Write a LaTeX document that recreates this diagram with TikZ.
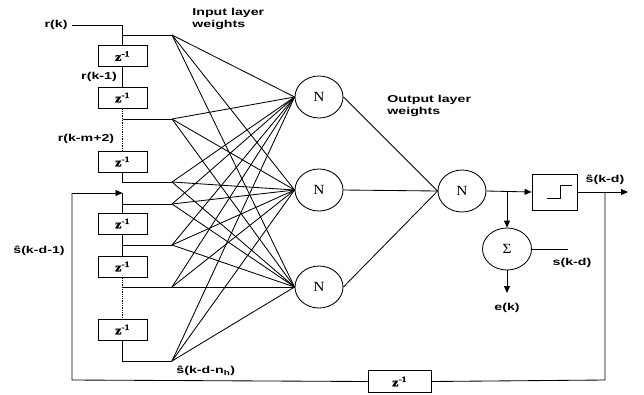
\documentclass[tikz,border=0pt]{standalone}
\usepackage{fontspec}
\setmainfont{Liberation Serif}
\setsansfont[FakeStretch=1.42]{Liberation Sans}
\newfontfamily\nfont[FakeStretch=1.1]{Liberation Serif}
\newfontfamily\zfont[FakeStretch=1.2,FakeBold=1.5]{Liberation Serif}
\usetikzlibrary{arrows.meta,shapes.geometric}
\begin{document}
\begin{tikzpicture}[x=1pt,y=-1pt,line width=0.85pt,
  delay/.style={draw,minimum width=49pt,minimum height=21pt,inner sep=0pt,font=\zfont\bfseries\fontsize{12}{12}\selectfont},
  neuron/.style={draw,ellipse,minimum width=48pt,minimum height=42pt,inner sep=0pt,font=\nfont\fontsize{14}{14}\selectfont},
  lbl/.style={font=\sffamily\bfseries\fontsize{10}{11.5}\selectfont,inner sep=0pt,align=left},
  arr/.style={-{Triangle[length=7pt,width=6pt]}},
  dots/.style={densely dotted,line width=1.3pt}
]
\useasboundingbox (0,0) rectangle (644,394);

% delay boxes
\node[delay] (d1) at (122.5,56) {z\textsuperscript{-1}};
\node[delay] (d2) at (122.5,97.5) {z\textsuperscript{-1}};
\node[delay] (d3) at (122.5,161.5) {z\textsuperscript{-1}};
\node[delay] (d4) at (122.5,223.5) {z\textsuperscript{-1}};
\node[delay] (d5) at (122.5,266.5) {z\textsuperscript{-1}};
\node[delay] (d6) at (122.5,329.5) {z\textsuperscript{-1}};
\node[delay,minimum width=63pt,minimum height=22pt] (db) at (399.5,381.5) {z\textsuperscript{-1}};

% fan points
\coordinate (f1) at (172,35);
\coordinate (f2) at (172,119);
\coordinate (f3) at (172,182);
\coordinate (f4) at (172,204);
\coordinate (f5) at (172,245);
\coordinate (f6) at (172,287);
\coordinate (f7) at (172,361);

% neurons
\node[neuron] (h1) at (319,97) {N};
\node[neuron] (h2) at (319,190) {N};
\node[neuron] (h3) at (319,287) {N};
\node[neuron] (o) at (462,191) {N};
\node[neuron,minimum width=49pt] (sg) at (507,249) {Σ};
\node[draw,minimum width=45pt,minimum height=36pt,inner sep=0pt] (st) at (554.5,192) {};

% labels
\node[lbl,anchor=east] (lrk) at (68,25) {r(k)};
\node[lbl] (lrk1) at (99,77) {r(k-1)};
\node[lbl] (lrkm) at (86,139) {r(k-m+2)};
\node[lbl] (lsd1) at (39,251) {ŝ(k-d-1)};
\node[lbl,anchor=west] (lsdn) at (176,371) {ŝ(k-d-n\textsubscript{h})};
\node[lbl,anchor=north west] (lin) at (192,8) {Input layer\\weights};
\node[lbl,anchor=north west] (lout) at (387,95) {Output layer\\weights};
\node[lbl] (lsk) at (572,263) {s(k-d)};
\node[lbl] (lek) at (507,308) {e(k)};
\node[lbl] (lshat) at (605,180) {ŝ(k-d)};

% input tapped delay line
\coordinate (rin) at (72,25);
\draw (rin) -| (d1.north);
\draw (d1.north |- f1) -- (f1);
\draw (d1.south) -- (d2.north);
\draw[dots] (d2.south) -- (d3.north);
\draw (d2.south |- f2) -- (f2);
\draw (d3.south) |- (f3);

% feedback tapped delay line
\coordinate (fbin) at (72,193);
\coordinate (fbtop) at (122.5,193);
\coordinate (fbl) at (72,380);
\coordinate (fbr) at (605,380);
\coordinate (jout) at (605,192);
\draw[arr] (fbin) -- (fbtop);
\draw (fbtop) -- (d4.north);
\draw (d4.north |- f4) -- (f4);
\draw (d4.south) -- (d5.north);
\draw (d4.south |- f5) -- (f5);
\draw[dots] (d5.south) -- (d6.north);
\draw (d5.south |- f6) -- (f6);
\draw (d6.south) |- (f7);
\draw (jout) -- (fbr) -- (db.east);
\draw (db.west) -- (fbl) -- (fbin);

% input layer weights
\foreach \f in {f1,f2,f3,f4,f5,f6,f7}
  \foreach \h in {h1,h2,h3}
    \draw (\f) -- (\h.west);

% output layer weights
\foreach \h in {h1,h2,h3}
  \draw (\h.east) -- (o.west);

% output stage
\coordinate (jb) at (507,192);
\coordinate (oend) at (628,192);
\coordinate (sin) at (568,249);
\coordinate (eend) at (507,293);
\draw[arr] (o.east) -- (st.west);
\draw[arr] (jb) -- (sg.north);
\draw[arr] (st.east) -- (oend);
\draw (sg.east) -- (sin);
\draw[arr] (sg.south) -- (eend);
% step symbol
\draw (547,198) -- (560,198) -- (560,185) -- (572,185);
\end{tikzpicture}
\end{document}
